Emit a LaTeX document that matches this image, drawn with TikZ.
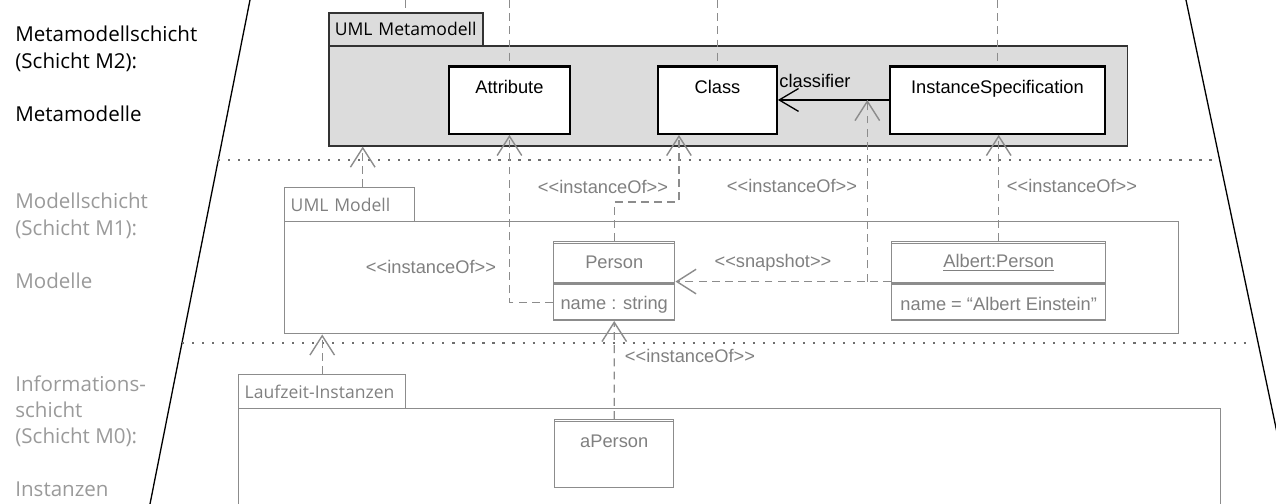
\documentclass[tikz,border=0pt]{standalone}
\usepackage{fontspec}
\setmainfont{Liberation Sans}
\newfontfamily\umlfamily{Liberation Sans}[Ligatures=TeXOff]
\newfontfamily\layerfamily{Open Sans}
\usetikzlibrary{arrows.meta,positioning}

\definecolor{metaline}{HTML}{333333}
\definecolor{metafill}{HTML}{DCDCDC}
\definecolor{modline}{HTML}{8C8C8C}
\definecolor{modtext}{HTML}{808080}
\definecolor{layergray}{HTML}{9A9A9A}
\definecolor{sepgray}{HTML}{6E6E6E}

\tikzset{
  umlfont/.style={font=\umlfamily\fontsize{10.4pt}{12pt}\selectfont},
  pkgfont/.style={font=\layerfamily\fontsize{10pt}{12pt}\selectfont},
  layerlabel/.style={font=\layerfamily\fontsize{11.7pt}{15pt}\selectfont,
    align=left, anchor=north west, inner sep=0pt},
  metapkg/.style={draw=metaline, fill=metafill, line width=0.9pt, inner sep=0pt, anchor=north west},
  metatab/.style={metapkg, pkgfont, text=black, inner xsep=0.12cm, align=left},
  metacls/.style={draw=black, fill=white, line width=1.1pt, umlfont, inner sep=0pt, anchor=north west},
  modpkg/.style={draw=modline, line width=0.85pt, inner sep=0pt, anchor=north west},
  modtab/.style={modpkg, pkgfont, text=modtext, inner xsep=0.12cm, align=left},
  modcls/.style={draw=modline, fill=white, line width=0.85pt, text=modtext, umlfont, inner sep=0pt, anchor=north west},
  stereo/.style={umlfont, text=modtext},
  dep/.style={draw=modline, line width=0.8pt, dash pattern=on 4.5pt off 3pt,
    -{Straight Barb[length=11pt,width=14pt]}},
  deptop/.style={draw=modline, line width=0.8pt, dash pattern=on 4.5pt off 3pt},
  assoc/.style={draw=black, line width=0.75pt, -{Straight Barb[length=11pt,width=13pt]}},
  layersep/.style={draw=sepgray, line width=1.1pt, dash pattern=on 1.2pt off 4.5pt},
  layerline/.style={draw=black, line width=0.75pt}
}

\begin{document}
\begin{tikzpicture}[x=0.02cm, y=-0.02cm]

  \clip (0,0) rectangle (1276,504);

  % Layer names
  \node[layerlabel, text=black] (namemtwo) at (15,26) {Metamodellschicht\\(Schicht M2):\\[15pt]Metamodelle};
  \node[layerlabel, text=layergray] (namemone) at (15,193) {Modellschicht\\(Schicht M1):\\[15pt]Modelle};
  \node[layerlabel, text=layergray] (namemzero) at (15,375) {Informations-\\schicht\\(Schicht M0):\\[15pt]Instanzen};

  % Layer borders
  \draw[layerline] (250,0) -- (150,504);
  \draw[layerline] (1186,0) -- (1292,504);
  \draw[layersep] (218,160) -- (1213,160);
  \draw[layersep] (182,343) -- (1252,343);

  % Packages
  \node[metapkg, minimum width=15.98cm, minimum height=2cm] (metabody) at (328,45) {};
  \node[metatab, text width=2.84cm, minimum height=0.66cm] (metatab) at (328,12) {UML Metamodell};
  \node[modpkg, minimum width=17.88cm, minimum height=2.24cm] (modbody) at (284,221) {};
  \node[modtab, text width=2.36cm, minimum height=0.68cm] (modtab) at (284,187) {UML Modell};
  \node[modpkg, minimum width=19.64cm, minimum height=2.2cm] (runbody) at (238,408) {};
  \node[modtab, text width=3.1cm, minimum height=0.68cm] (runtab) at (238,374) {Laufzeit-Instanzen};

  % M2 classes
  \node[metacls, minimum width=2.42cm, text height=0.56cm, text depth=0.8cm] (attr) at (448,65) {Attribute};
  \node[metacls, minimum width=2.38cm, text height=0.56cm, text depth=0.8cm] (cls) at (657,65) {Class};
  \node[metacls, minimum width=4.3cm, text height=0.56cm, text depth=0.8cm] (inst) at (889,65) {InstanceSpecification};

  % M1 objects
  \node[modcls, minimum width=2.42cm, text height=0.54cm, text depth=0.28cm] (person) at (553,241) {Person};
  \node[modcls, minimum width=2.42cm, text height=0.5cm, text depth=0.22cm] (personattr) at (person.south west) {name : string};
  \node[modcls, minimum width=4.28cm, text height=0.52cm, text depth=0.3cm] (albert) at (891,241) {\underline{Albert:Person}};
  \node[modcls, minimum width=4.28cm, text height=0.52cm, text depth=0.2cm] (albertattr) at (albert.south west) {name = “Albert Einstein”};

  % M0 instance
  \node[modcls, minimum width=2.38cm, text height=0.56cm, text depth=0.8cm] (aperson) at (554,419) {aPerson};

  % double top lines
  \foreach \n in {attr,cls,inst}
    \draw[line width=0.6pt] ([yshift=-1.6pt]\n.north west) -- ([yshift=-1.6pt]\n.north east);
  \foreach \n in {person,albert,aperson}
    \draw[modline, line width=0.5pt] ([yshift=-1.6pt]\n.north west) -- ([yshift=-1.6pt]\n.north east);

  % Stubs to the layer above
  \foreach \n in {metatab,attr,cls,inst}
    \draw[deptop] (\n.north |- 0,0) -- (\n.north);

  % classifier
  \draw[assoc] (inst.west) -- coordinate[pos=0.195] (clsf) (cls.east);
  \node[umlfont] (clsflbl) at (815,81) {classifier};

  % instanceOf and snapshot
  \coordinate (modtabdep) at ([xshift=0.26cm]modtab.north);
  \draw[dep] (modtabdep) -- (modtabdep |- metabody.south);
  \draw[dep] (personattr.west) -| (attr.south);
  \coordinate (clsin) at ([xshift=-0.77cm]cls.south);
  \draw[dep] (person.north) -- ++(0,-39) -| (clsin);
  \coordinate (snapa) at ([yshift=1.1pt]albert.south west);
  \draw[dep] (snapa) -- (snapa -| person.east);
  \draw[dep] (snapa -| clsf) -- (clsf);
  \draw[dep] (albert.north) -- (albert.north |- inst.south);
  \draw[dep] (aperson.north) -- (personattr.south);
  \draw[dep] (runtab.north) -- (runtab.north |- modbody.south);

  % Labels
  \node[stereo] (ioattr) at (431,267) {<<instanceOf>>};
  \node[stereo] (iocls) at (603,187) {<<instanceOf>>};
  \node[stereo] (iosnap) at (792,186) {<<instanceOf>>};
  \node[stereo] (ioinst) at (1072,186) {<<instanceOf>>};
  \node[stereo] (snaplbl) at (773,263) {<<snapshot>>};
  \node[stereo] (ioaperson) at (690,356) {<<instanceOf>>};

\end{tikzpicture}
\end{document}
